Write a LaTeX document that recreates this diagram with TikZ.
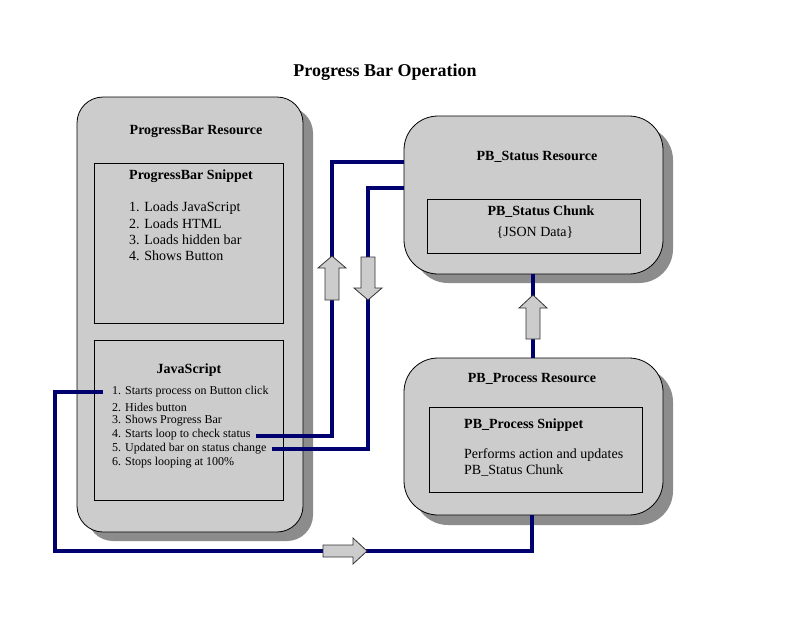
\documentclass[tikz,border=0pt]{standalone}
\usepackage{fontspec}
\setmainfont{Liberation Serif}
\begin{document}
\begin{tikzpicture}[x=1pt,y=-1pt,
  res/.style={draw=black,line width=0.8pt,fill=boxgray},
  inner/.style={draw=black,line width=0.8pt},
  hdr/.style={font=\fontsize{14}{16}\selectfont\bfseries,inner sep=0pt},
  item/.style={font=\fontsize{14}{16}\selectfont,inner sep=0pt,anchor=west},
  jsitem/.style={font=\fontsize{12}{13}\selectfont,inner sep=0pt,anchor=west},
  link/.style={draw=linkblue,line width=3.6pt},
  blockarrow/.style={fill=arrowgray,draw=arrowedge,line width=0.8pt}]
\definecolor{boxgray}{RGB}{204,204,204}
\definecolor{shadowgray}{RGB}{140,140,140}
\definecolor{linkblue}{RGB}{0,0,110}
\definecolor{arrowgray}{RGB}{204,204,204}
\definecolor{arrowedge}{RGB}{50,50,50}
\useasboundingbox (0,0) rectangle (803,621);

% title
\node[font=\fontsize{18}{20}\selectfont\bfseries,inner sep=0pt] (title) at (385,72) {Progress Bar Operation};

% shadows
\fill[shadowgray,rounded corners=26pt] (87,107) rectangle (313,541);
\fill[shadowgray,rounded corners=34pt] (414,126) rectangle (673,283);
\fill[shadowgray,rounded corners=34pt] (414,368) rectangle (673,525);

% ProgressBar resource
\path[res,rounded corners=26pt] (77,97) rectangle (303,532);
\node[draw=none,inner sep=0pt,minimum width=226pt,minimum height=435pt] (pbres) at (190,314.5) {};
\node[hdr] (pbtitle) at (196,131) {ProgressBar Resource};
\draw[inner] (94,163) rectangle (283,323);
\node[hdr,anchor=west] (snip) at (129,176) {ProgressBar Snippet};
\node[item] (s1) at (129,208) {1. Loads JavaScript};
\node[item] (s2) at (129,224) {2. Loads HTML};
\node[item] (s3) at (129,240) {3. Loads hidden bar};
\node[item] (s4) at (129,256) {4. Shows Button};
\draw[inner] (94,340) rectangle (283,500);
\node[hdr] (jstitle) at (189,370) {JavaScript};
\node[jsitem] (js1) at (112,392) {1. Starts process on Button click};
\node[jsitem] (js2) at (112,407) {2. Hides button};
\node[jsitem] (js3) at (112,421) {3. Shows Progress Bar};
\node[jsitem] (js4) at (112,435) {4. Starts loop to check status};
\node[jsitem] (js5) at (112,449) {5. Updated bar on status change};
\node[jsitem] (js6) at (112,463) {6. Stops looping at 100\%};

% PB_Status resource
\path[res,rounded corners=34pt] (404,116) rectangle (663,274);
\node[inner sep=0pt,minimum width=259pt,minimum height=158pt] (status) at (533.5,195) {};
\node[hdr] (sttitle) at (537,157) {PB\_Status Resource};
\draw[inner] (427,199) rectangle (640,253);
\node[hdr] (chunk) at (541,212) {PB\_Status Chunk};
\node[item,anchor=center] (json) at (535,233) {\{JSON Data\}};

% PB_Process resource
\path[res,rounded corners=34pt] (404,358) rectangle (663,515);
\node[inner sep=0pt,minimum width=259pt,minimum height=157pt] (process) at (533.5,436.5) {};
\node[hdr] (prtitle) at (532,379) {PB\_Process Resource};
\draw[inner] (429,407) rectangle (642,492);
\node[hdr,anchor=west] (prsnip) at (464,425) {PB\_Process Snippet};
\node[item] (p1) at (464,455) {Performs action and updates};
\node[item] (p2) at (464,471) {PB\_Status Chunk};

% connectors
\coordinate (c1) at (332,162);
\coordinate (c2) at (368,188);
\coordinate (c3) at (55,551);
\coordinate (c4) at (532,551);
\draw[link] ([xshift=5pt,yshift=-1pt]js4.east) -| (c1) -- (c1 -| status.west);
\draw[link] ([xshift=5pt]js5.east) -| (c2) -- (c2 -| status.west);
\draw[link] ([xshift=-9pt]js1.west) -| (c3) -- (c4) -- (c4 |- process.south);
\draw[link] (status.south -| 533,0) -- (process.north -| 533,0);

% block arrows
\path[blockarrow] (325,300) -- (325,268) -- (318,268) -- (332,256) -- (346,268) -- (339,268) -- (339,300) -- cycle;
\path[blockarrow] (361,257) -- (361,288) -- (354,288) -- (368,300) -- (382,288) -- (375,288) -- (375,257) -- cycle;
\path[blockarrow] (526,339) -- (526,308) -- (519,308) -- (533,295) -- (547,308) -- (540,308) -- (540,339) -- cycle;
\path[blockarrow] (323,545) -- (353,545) -- (353,538) -- (367,551) -- (353,564) -- (353,557) -- (323,557) -- cycle;
\end{tikzpicture}
\end{document}
